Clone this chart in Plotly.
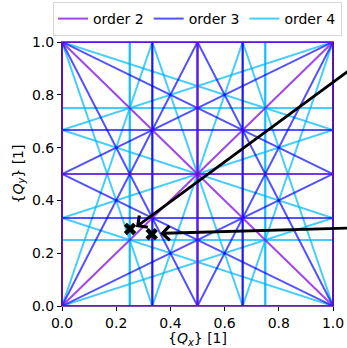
import math
import plotly.graph_objects as go

# ---- data ----
orders = [2, 3, 4]
order_names = ["order 2", "order 3", "order 4"]
order_colors = ["rgba(125,0,225,0.72)", "rgba(0,0,255,0.68)", "rgba(0,185,255,0.72)"]

tune_qx = [0.251, 0.331]
tune_qy = [0.292, 0.272]

arrow_tip_qx = [0.273, 0.362]
arrow_tip_qy = [0.299, 0.275]
arrow_tail_qx = [1.12, 1.12]
arrow_tail_qy = [0.938, 0.297]

tick_vals = [0.0, 0.2, 0.4, 0.6, 0.8, 1.0]
tick_text = ["0.0", "0.2", "0.4", "0.6", "0.8", "1.0"]


def segment(m, n, p):
    """end points of m*Qx + n*Qy = p inside the unit square"""
    pts = []
    eps = 1e-9
    if n != 0:
        for x in (0.0, 1.0):
            y = (p - m * x) / n
            if -eps <= y <= 1 + eps:
                pts.append((x, min(max(y, 0.0), 1.0)))
    if m != 0:
        for y in (0.0, 1.0):
            x = (p - n * y) / m
            if -eps <= x <= 1 + eps:
                pts.append((min(max(x, 0.0), 1.0), y))
    uniq = []
    for q in pts:
        if all(abs(q[0] - u[0]) > 1e-7 or abs(q[1] - u[1]) > 1e-7 for u in uniq):
            uniq.append(q)
    if len(uniq) < 2:
        return None
    best = None
    bd = -1
    for i in range(len(uniq)):
        for j in range(i + 1, len(uniq)):
            d = (uniq[i][0] - uniq[j][0]) ** 2 + (uniq[i][1] - uniq[j][1]) ** 2
            if d > bd:
                bd = d
                best = (uniq[i], uniq[j])
    return best


fig = go.Figure()

# draw highest order first so that order 2 is on top
for k in reversed(range(len(orders))):
    N = orders[k]
    first = True
    for m in range(-N, N + 1):
        n = N - abs(m)
        if m != 0 and n != 0 and math.gcd(abs(m), n) > 1:
            continue
        corner_vals = [m * cx + n * cy for cx in (0, 1) for cy in (0, 1)]
        for p in range(min(corner_vals), max(corner_vals) + 1):
            seg = segment(m, n, p)
            if seg is None:
                continue
            (x0, y0), (x1, y1) = seg
            fig.add_trace(go.Scatter(
                x=[x0, x1], y=[y0, y1], mode="lines",
                line=dict(color=order_colors[k], width=2),
                name=order_names[k], legendgroup=order_names[k],
                showlegend=first, legendrank=k + 1, hoverinfo="skip"))
            first = False

fig.add_trace(go.Scatter(
    x=tune_qx, y=tune_qy, mode="markers",
    marker=dict(symbol="x", size=11, color="black", line=dict(width=0)),
    showlegend=False, hoverinfo="skip"))

for i in range(len(arrow_tip_qx)):
    fig.add_annotation(
        x=arrow_tip_qx[i], y=arrow_tip_qy[i], xref="x", yref="y",
        ax=arrow_tail_qx[i], ay=arrow_tail_qy[i], axref="x", ayref="y",
        text="", showarrow=True, arrowhead=4, arrowsize=1,
        arrowwidth=2.8, arrowcolor="black")

font = dict(family="DejaVu Sans", size=14, color="black")

W, H = 347, 348
ML, MR, MT, MB = 62, 14, 42, 42
PW, PH = W - ML - MR, H - MT - MB

fig.update_layout(
    width=W, height=H,
    margin=dict(l=ML, r=MR, t=MT, b=MB, autoexpand=False),
    paper_bgcolor="white", plot_bgcolor="white",
    font=font,
    showlegend=True,
    legend=dict(
        orientation="h", xref="paper", yref="paper",
        x=(53 - ML) / PW, y=1 + (MT - 2) / PH, xanchor="left", yanchor="top",
        bordercolor="#d8d8d8", borderwidth=1, bgcolor="white",
        font=font, itemwidth=30, tracegroupgap=0),
)

fig.update_xaxes(
    range=[0, 1], tickvals=tick_vals, ticktext=tick_text,
    ticks="outside", ticklen=4, tickwidth=1, tickcolor="black",
    showgrid=False, zeroline=False, showline=True, linewidth=1,
    linecolor="#7a50b0", mirror=True, layer="below traces", automargin=False,
    title=dict(text="{<i>Q</i><sub><i>x</i></sub>} [1]", font=font, standoff=2))
fig.update_yaxes(
    range=[0, 1], tickvals=tick_vals, ticktext=tick_text,
    ticks="outside", ticklen=4, tickwidth=1, tickcolor="black",
    showgrid=False, zeroline=False, showline=True, linewidth=1,
    linecolor="#3a2580", mirror=True, layer="below traces", automargin=False,
    title=dict(text="{<i>Q</i><sub><i>y</i></sub>} [1]", font=font, standoff=5))

fig.write_html(
    "out.html",
    config={"displayModeBar": False},
    post_script="document.body.style.margin='0';document.body.style.overflow='hidden';")
